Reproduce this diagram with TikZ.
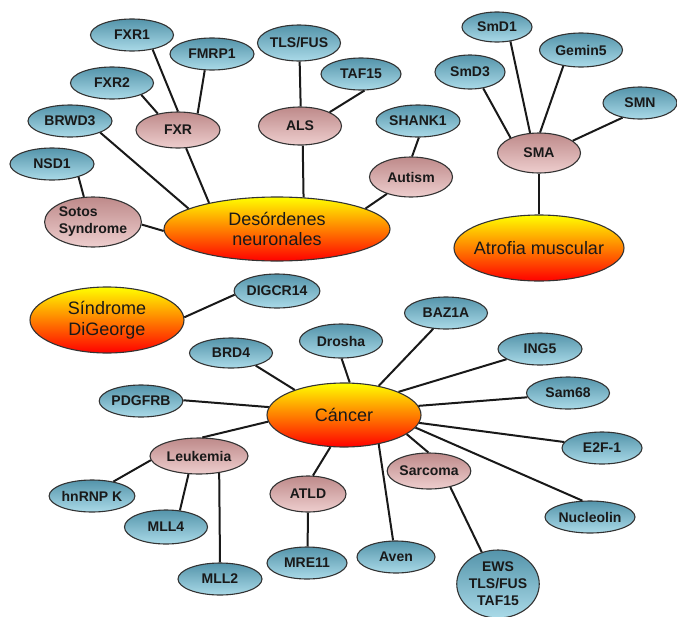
\documentclass[tikz,border=0pt]{standalone}
\usepackage{fontspec}
\setmainfont{Liberation Sans}
\usetikzlibrary{shapes.geometric}
\definecolor{bluetop}{RGB}{84,148,170}
\definecolor{bluebot}{RGB}{170,218,232}
\definecolor{pinktop}{RGB}{190,138,138}
\definecolor{pinkbot}{RGB}{238,206,206}
\definecolor{txt}{RGB}{25,25,25}
\tikzset{
  base/.style={ellipse, draw=black!80, line width=1.1pt, inner sep=0pt, text=txt},
  leaf/.style={base, top color=bluetop, bottom color=bluebot, minimum width=83pt, minimum height=32pt, font=\bfseries\fontsize{14}{17}\selectfont},
  dis/.style={base, top color=pinktop, bottom color=pinkbot, minimum width=83pt, minimum height=38pt, font=\bfseries\fontsize{14}{17}\selectfont},
  mainnode/.style={base, top color=yellow, bottom color=red, middle color=orange, font=\fontsize{18}{20.5}\selectfont},
  link/.style={line width=2pt, black!90}
}
\begin{document}
\begin{tikzpicture}[x=1pt,y=-1pt]
\useasboundingbox (0,0) rectangle (677,616);
% neuronal cluster
\node[leaf] (fxr1) at (132,35) {FXR1};
\node[leaf, minimum width=84pt] (fmrp1) at (212,54) {FMRP1};
\node[leaf] (fxr2) at (112,83) {FXR2};
\node[leaf, minimum width=84pt] (brwd3) at (70,121) {BRWD3};
\node[leaf, minimum width=84pt] (nsd1) at (52,164) {NSD1};
\node[dis, minimum width=84pt, minimum height=36pt] (fxr) at (178,130) {FXR};
\node[dis, minimum width=94pt, minimum height=50pt, align=left] (sotos) at (93,222) {Sotos\\Syndrome};
\node[leaf, minimum height=36pt] (tlsfus) at (299,43) {TLS/FUS};
\node[dis, minimum height=38pt] (als) at (300,126) {ALS};
\node[mainnode, minimum width=226pt, minimum height=64pt, align=center] (des) at (277,229) {Desórdenes\\neuronales};
\node[leaf, minimum width=80pt] (taf15) at (361,74) {TAF15};
\node[leaf, minimum width=84pt] (shank1) at (418,121) {SHANK1};
\node[dis, minimum height=40pt] (autism) at (411,177) {Autism};
% SMA cluster
\node[leaf, minimum width=70pt, minimum height=30pt] (smd1) at (497,27) {SmD1};
\node[leaf, minimum width=70pt, minimum height=34pt] (smd3) at (470,72) {SmD3};
\node[leaf, minimum height=34pt] (gemin5) at (581,50) {Gemin5};
\node[leaf, minimum width=74pt] (smn) at (640,103) {SMN};
\node[dis, minimum height=40pt] (sma) at (539,153) {SMA};
\node[mainnode, minimum width=170pt, minimum height=66pt, inner xsep=-7pt] (atrofia) at (539,248) {Atrofia muscular};
% DiGeorge
\node[mainnode, minimum width=154pt, minimum height=66pt, align=center] (digeorge) at (107,320) {Síndrome\\DiGeorge};
\node[leaf, minimum height=34pt] (digcr14) at (277,291) {DIGCR14};
% cancer cluster
\node[leaf, minimum height=30pt] (brd4) at (231,353) {BRD4};
\node[leaf] (pdgfrb) at (141,401) {PDGFRB};
\node[dis, minimum width=98pt, minimum height=36pt] (leuk) at (199,456) {Leukemia};
\node[leaf, minimum width=84pt] (hnrnpk) at (92,496) {hnRNP K};
\node[leaf, minimum height=34pt] (mll4) at (166,527) {MLL4};
\node[leaf, minimum width=84pt] (mll2) at (220,579) {MLL2};
\node[dis, minimum width=76pt, minimum height=36pt] (atld) at (308,494) {ATLD};
\node[leaf, minimum width=80pt] (mre11) at (307,563) {MRE11};
\node[leaf, minimum height=34pt] (drosha) at (341,341) {Drosha};
\node[mainnode, minimum width=154pt, minimum height=64pt] (cancer) at (344,415) {Cáncer};
\node[leaf] (baz1a) at (446,313) {BAZ1A};
\node[leaf, minimum width=84pt] (ing5) at (540,349) {ING5};
\node[leaf] (sam68) at (568,393) {Sam68};
\node[leaf, minimum width=80pt] (e2f1) at (602,448) {E2F-1};
\node[leaf, minimum width=90pt] (nucleolin) at (590,517) {Nucleolin};
\node[dis, minimum height=36pt] (sarcoma) at (429,471) {Sarcoma};
\node[leaf, minimum width=78pt] (aven) at (396,557) {Aven};
\node[leaf, minimum width=80pt, minimum height=68pt, align=center] (ews) at (498,584) {EWS\\TLS/FUS\\TAF15};
% connectors
\draw[link] (fxr1.-35) -- (fxr.90);
\draw[link] (fmrp1.246) -- (fxr.40);
\draw[link] (fxr2.-22) -- (fxr.141);
\draw[link] (brwd3.-21) -- (des.167);
\draw[link] (fxr.-66) -- (des.159);
\draw[link] (nsd1.-26) -- (sotos.110);
\draw[link] (sotos.-3) -- (des.181);
\draw[link] (tlsfus.-88) -- (als.88);
\draw[link] (als.-82) -- (des.50);
\draw[link] (taf15.-78) -- (als.25);
\draw[link] (shank1.-87) -- (autism.87);
\draw[link] (autism.215) -- (des.13);
\draw[link] (smd3.-51) -- (sma.152);
\draw[link] (smd1.-47) -- (sma.114);
\draw[link] (gemin5.222) -- (sma.87);
\draw[link] (smn.220) -- (sma.20);
\draw[link] (sma.south) -- (atrofia.north);
\draw[link] (digcr14.185) -- (digeorge.2);
\draw[link] (brd4.-27) -- (cancer.153);
\draw[link] (pdgfrb.1) -- (cancer.174);
\draw[link] (cancer.185) -- (leuk.80);
\draw[link] (leuk.185) -- (hnrnpk.34);
\draw[link] (leuk.240) -- (mll4.50);
\draw[link] (leuk.-40) -- (mll2.90);
\draw[link] (cancer.247) -- (atld.75);
\draw[link] (atld.-90) -- (mre11.88);
\draw[link] (drosha.-88) -- (cancer.80);
\draw[link] (baz1a.231) -- (cancer.40);
\draw[link] (ing5.197) -- (cancer.23);
\draw[link] (sam68.186) -- (cancer.7);
\draw[link] (e2f1.171) -- (cancer.-6);
\draw[link] (nucleolin.115) -- (cancer.-10);
\draw[link] (sarcoma.92) -- (cancer.-17);
\draw[link] (aven.100) -- (cancer.-40);
\draw[link] (sarcoma.-37) -- (ews.117);
\end{tikzpicture}
\end{document}
